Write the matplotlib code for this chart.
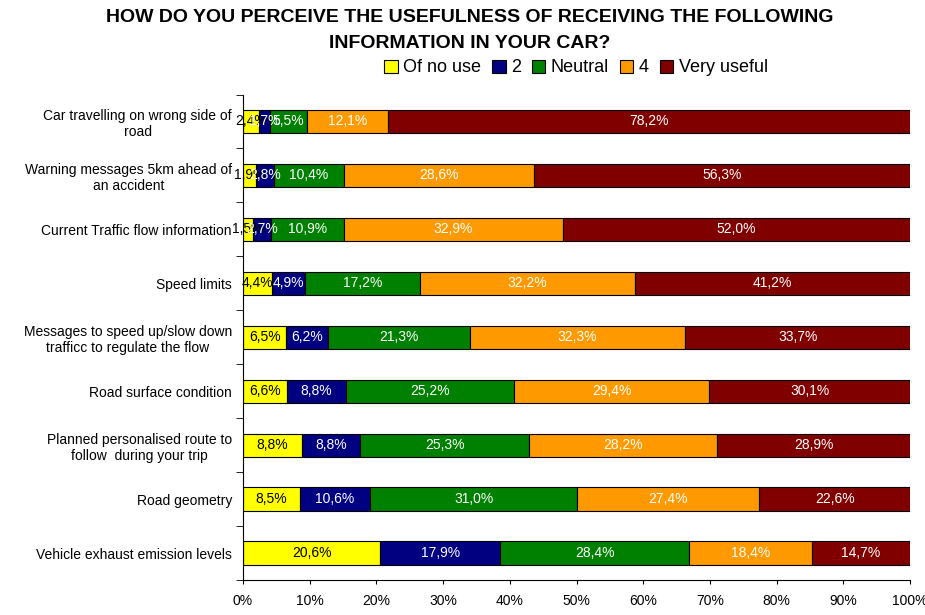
import matplotlib.pyplot as plt
import numpy as np

plt.rcParams['font.family'] = ['Liberation Sans', 'DejaVu Sans']

categories = [
    "Car travelling on wrong side of\nroad",
    "Warning messages 5km ahead of\nan accident",
    "Current Traffic flow information",
    "Speed limits",
    "Messages to speed up/slow down\ntrafficc to regulate the flow",
    "Road surface condition",
    "Planned personalised route to\nfollow  during your trip",
    "Road geometry",
    "Vehicle exhaust emission levels",
]
series_names = ["Of no use", "2", "Neutral", "4", "Very useful"]
of_no_use = [2.4, 1.9, 1.5, 4.4, 6.5, 6.6, 8.8, 8.5, 20.6]
two = [1.7, 2.8, 2.7, 4.9, 6.2, 8.8, 8.8, 10.6, 17.9]
neutral = [5.5, 10.4, 10.9, 17.2, 21.3, 25.2, 25.3, 31.0, 28.4]
four = [12.1, 28.6, 32.9, 32.2, 32.3, 29.4, 28.2, 27.4, 18.4]
very_useful = [78.2, 56.3, 52.0, 41.2, 33.7, 30.1, 28.9, 22.6, 14.7]

colors = ["#FFFF00", "#000080", "#008000", "#FF9900", "#800000"]
text_colors = ["black", "white", "white", "white", "white"]

data = np.array([of_no_use, two, neutral, four, very_useful])
totals = data.sum(axis=0)
pct = data / totals * 100

fig = plt.figure(figsize=(9.25, 6.15), dpi=100)
ax = fig.add_axes([243 / 925, 1 - 580 / 615, 667 / 925, (580 - 94.5) / 615])

y = np.arange(len(categories))
left = np.zeros(len(categories))
for i, name in enumerate(series_names):
    ax.barh(y, pct[i], left=left, height=0.43, color=colors[i],
            edgecolor="black", linewidth=0.8, label=name)
    for j in range(len(categories)):
        ax.text(left[j] + pct[i][j] / 2, y[j], f"{data[i][j]:.1f}%".replace(".", ","),
                ha="center", va="center", fontsize=10, color=text_colors[i])
    left += pct[i]

ax.set_xlim(0, 100)
ax.set_ylim(len(categories) - 0.5, -0.5)
ax.set_xticks(np.arange(0, 101, 10))
ax.set_xticklabels([f"{v}%" for v in range(0, 101, 10)], fontsize=10)
ax.set_yticks(y)
ax.set_yticklabels(categories, fontsize=10, multialignment="center")
ax.set_yticks(np.arange(-0.5, len(categories), 1), minor=True)
ax.tick_params(axis="y", which="major", length=0, pad=8)
ax.tick_params(axis="y", which="minor", length=5, direction="out")
ax.tick_params(axis="x", length=3, direction="out", pad=7)
ax.spines["top"].set_visible(False)
ax.spines["right"].set_visible(False)

fig.text(0.508, 0.985, "HOW DO YOU PERCEIVE THE USEFULNESS OF RECEIVING THE FOLLOWING\nINFORMATION IN YOUR CAR?",
         ha="center", va="top", fontsize=14, fontweight="bold", linespacing=1.7)

ax.legend(loc="center", bbox_to_anchor=(576 / 925, 1 - 68 / 615), bbox_transform=fig.transFigure,
          ncol=5, frameon=False, fontsize=13, handlelength=0.75, handleheight=0.75,
          handletextpad=0.3, columnspacing=0.6, borderaxespad=0)

fig.savefig("out.png", dpi=100)
